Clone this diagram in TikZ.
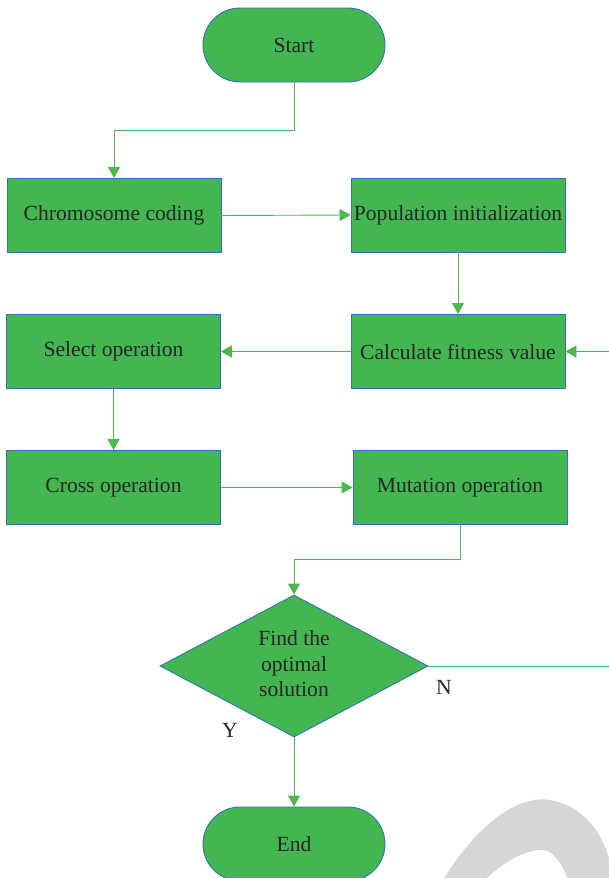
\documentclass[tikz,border=0pt]{standalone}
\usepackage{fontspec}
\setmainfont{Liberation Serif}
\usetikzlibrary{shapes.geometric,shapes.misc,arrows.meta}
\definecolor{boxgreen}{HTML}{43B551}
\definecolor{boxedge}{HTML}{2E75B6}
\definecolor{linegreen}{HTML}{4CB84E}
\definecolor{wmgrey}{HTML}{D6D6D6}
\tikzset{
  base/.style={fill=boxgreen,draw=boxedge,line width=0.9pt,text=black!85,font=\fontsize{21.6}{24}\selectfont,inner sep=0pt},
  procbox/.style={base,rectangle,minimum width=214pt,minimum height=74pt},
  termbox/.style={base,rounded rectangle,minimum width=182pt,minimum height=74pt},
  decbox/.style={base,diamond,minimum width=268pt,minimum height=142pt,aspect=1.89,align=center,font=\fontsize{21.6}{25.5}\selectfont},
  conn/.style={draw=linegreen,line width=0.9pt,-{Triangle[length=11pt,width=12pt]}},
  lbl/.style={font=\fontsize{21.6}{24}\selectfont,text=black!85}
}
\begin{document}
\begin{tikzpicture}[x=1pt,y=-1pt]
\useasboundingbox (0,0) rectangle (608,878);
% watermark arc
\fill[wmgrey] (443,880) .. controls (480,820) and (520,795) .. (550,800)
  .. controls (585,806) and (605,835) .. (612,870) -- (612,880) -- (568,880)
  .. controls (560,858) and (550,848) .. (538,850)
  .. controls (520,852) and (500,865) .. (485,880) -- cycle;
\node[termbox] (start) at (294,45) {Start};
\node[procbox] (chrom) at (114,215.5) {Chromosome coding};
\node[procbox] (pop) at (458,215) {Population initialization};
\node[procbox] (fit) at (458,351.5) {Calculate fitness value};
\node[procbox] (sel) at (113.5,351.5) {Select operation};
\node[procbox] (cross) at (113.5,487.5) {Cross operation};
\node[procbox] (mut) at (460,487.5) {Mutation operation};
\node[decbox] (dec) at (294,666) {};
\node[lbl,align=center,font=\fontsize{21.6}{25.5}\selectfont] (dectext) at (294,664) {Find the\\optimal\\solution};
\node[termbox] (end) at (294,844) {End};
\node[lbl] (nlab) at (444,687) {N};
\node[lbl] (ylab) at (230,730) {Y};
\coordinate (farright) at (620,666);
\draw[conn] (start.south) -- (294,130) -| (chrom.north);
\draw[conn] (chrom.east) -- (pop.west);
\draw[conn] (pop.south) -- (fit.north);
\draw[conn] (fit.west) -- (sel.east);
\draw[conn] (sel.south) -- (cross.north);
\draw[conn] (cross.east) -- (mut.west);
\draw[conn] (mut.south) -- (460,559) -| (dec.north);
\draw[conn] (dec.east) -- (farright) |- (fit.east);
\draw[conn] (dec.south) -- (end.north);
\end{tikzpicture}
\end{document}
